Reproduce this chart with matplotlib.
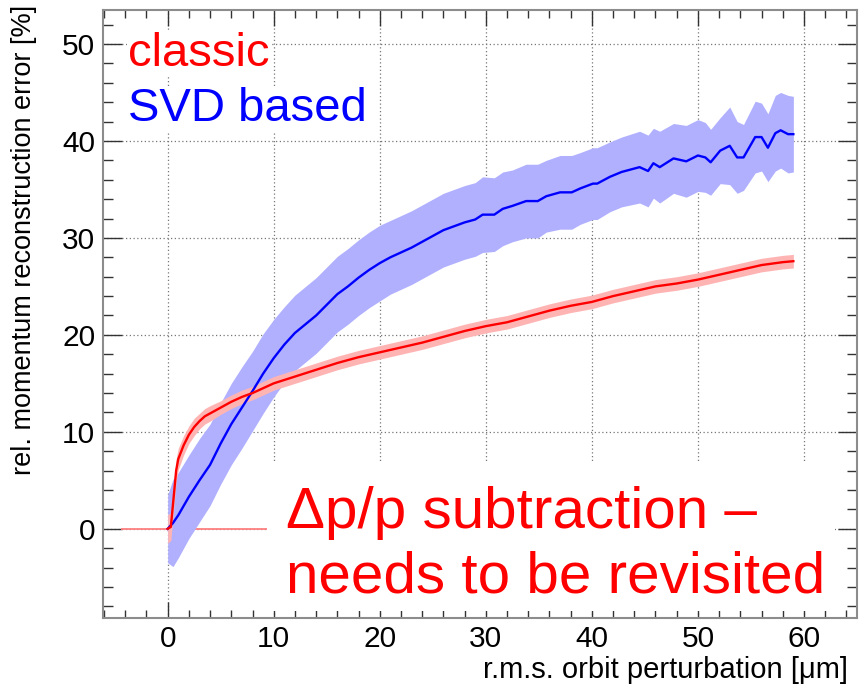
import numpy as np
import matplotlib.pyplot as plt
from matplotlib.ticker import MultipleLocator
from matplotlib.patches import Rectangle

plt.rcParams['font.family'] = ['Liberation Sans', 'DejaVu Sans']

# SVD based reconstruction: mean and spread vs. r.m.s. orbit perturbation
svd_x = [0, 0.5, 1, 2, 3, 4, 5, 6, 7, 8, 9, 10, 11, 12, 13, 14, 15, 16, 17, 18, 19, 20,
         21, 22, 23, 24, 25, 26, 27, 28, 29, 29.7, 30.8, 31.6, 32.5, 33.8, 34.9, 35.7,
         37.0, 38.1, 38.9, 40.1, 40.5, 41.7, 42.8, 44.5, 45.3, 45.8, 46.4, 47.7, 48.9,
         50.0, 50.7, 51.2, 52.1, 53.0, 53.7, 54.3, 55.4, 56.0, 56.6, 57.3, 57.8, 58.5, 59.0]
svd_y = [0, 0.6, 1.4, 3.3, 5.0, 6.6, 8.8, 10.8, 12.5, 14.2, 16.0, 17.6, 19.0, 20.2, 21.1,
         22.0, 23.1, 24.2, 25.0, 25.9, 26.7, 27.4, 28.0, 28.5, 29.0, 29.6, 30.2, 30.8,
         31.2, 31.6, 31.9, 32.4, 32.4, 33.0, 33.3, 33.8, 33.8, 34.3, 34.7, 34.7, 35.1,
         35.6, 35.6, 36.3, 36.8, 37.3, 36.9, 37.7, 37.3, 38.2, 37.9, 38.5, 38.3, 37.8,
         39.0, 39.5, 38.3, 38.3, 40.4, 40.4, 39.3, 40.8, 41.1, 40.7, 40.7]
svd_err = [3.5, 4.5, 4.4, 4.3, 4.3, 4.2, 4.2, 4.2, 4.2, 4.1, 4.1, 4.0,
           3.9, 3.9, 3.9, 3.9, 3.9, 3.9, 3.9, 3.9, 3.9, 3.9,
           3.8, 3.8, 3.8, 3.8, 3.8, 3.8, 3.8, 3.8, 3.8,
           3.9, 3.8, 3.8, 3.7, 3.8, 3.8, 3.7, 3.8, 3.8, 3.7,
           3.7, 3.7, 3.6, 3.6, 3.7, 3.7, 3.6, 3.7, 3.6, 3.7,
           3.7, 3.6, 3.4, 3.4, 4.0, 3.7, 3.4, 3.7, 3.5, 3.5,
           3.9, 3.9, 4.0, 3.9]

# classic reconstruction
cls_x = [0, 0.3, 0.5, 0.8, 1.0, 1.5, 2, 2.5, 3, 3.5, 4, 5, 6, 7, 8, 9, 10, 12, 14, 16, 18,
         20, 22, 24, 26, 28, 30, 32, 34, 36, 38, 40, 42, 44, 46, 48, 50, 52, 54, 56, 58, 59]
cls_y = [0, 0.2, 2.5, 6.0, 7.2, 8.6, 9.7, 10.5, 11.1, 11.6, 11.9, 12.5, 13.1, 13.6, 14.0,
         14.5, 15.0, 15.7, 16.4, 17.1, 17.7, 18.2, 18.7, 19.2, 19.8, 20.4, 20.9, 21.3,
         21.9, 22.5, 23.0, 23.4, 24.0, 24.5, 25.0, 25.3, 25.7, 26.2, 26.7, 27.2, 27.5, 27.6]
cls_err = [1.5, 1.4, 1.3, 1.2, 1.1, 1.0, 0.9, 0.9, 0.8, 0.8, 0.8] + [0.7] * 31

# reference line at zero
zero_x = [-4.4, 9.4]

svd_x, svd_y, svd_err = np.array(svd_x), np.array(svd_y), np.array(svd_err)
cls_x, cls_y, cls_err = np.array(cls_x), np.array(cls_y), np.array(cls_err)

fig = plt.figure(figsize=(8.66, 6.93), dpi=100)
ax = fig.add_axes([0.1189, 0.1082, 0.8707, 0.8773])

ax.fill_between(svd_x, svd_y - svd_err, svd_y + svd_err, color='#b0b0ff', lw=0, zorder=1.6)
ax.fill_between(cls_x, cls_y - cls_err, cls_y + cls_err, color='#ffb4b4', lw=0, zorder=1.7)
ax.plot(svd_x, svd_y, color='#0000ff', lw=1.7, zorder=2)
ax.plot(cls_x, cls_y, color='#ff0000', lw=1.7, zorder=2.1)
ax.hlines(0, zero_x[0], zero_x[1], color='#ff8080', lw=1.3, zorder=1.5)

ax.set_xlim(-6.1, 65.0)
ax.set_ylim(-9.2, 53.5)

# ROOT-like axes: inner ticks on all sides, dotted grid
ax.xaxis.set_major_locator(MultipleLocator(10))
ax.xaxis.set_minor_locator(MultipleLocator(2))
ax.yaxis.set_major_locator(MultipleLocator(10))
ax.yaxis.set_minor_locator(MultipleLocator(2))
ax.set_axisbelow(True)
ax.grid(True, which='major', color='#777777', linestyle=(0, (1, 2)), lw=0.9)
ax.tick_params(which='both', direction='in', top=True, right=True, colors='#333333',
               labelcolor='black', labelsize=21.5, width=1)
ax.tick_params(axis='x', which='major', length=11.5, pad=5)
ax.tick_params(axis='x', which='minor', length=6)
ax.tick_params(axis='y', which='major', length=14, pad=5.5)
ax.tick_params(axis='y', which='minor', length=7)
for s in ax.spines.values():
    s.set_color('#8c8c8c')
    s.set_linewidth(1.5)

ax.set_xlabel('r.m.s. orbit perturbation [\u03bcm]', fontsize=21, ha='right')
ax.xaxis.set_label_coords(0.988, -0.062)
ax.set_ylabel('rel. momentum reconstruction error [%]', fontsize=19.5, ha='right')
ax.yaxis.set_label_coords(-0.087, 1.008)

# legend-style labels with white background
box = dict(boxstyle='square,pad=0.02', facecolor='white', edgecolor='none')
ax.text(-3.7, 47.7, 'classic', color='#ff0000', fontsize=34, va='baseline', bbox=box, zorder=3)
ax.text(-3.7, 42.1, 'SVD based', color='#0000ff', fontsize=34, va='baseline', bbox=box, zorder=3)

# note box
ax.add_patch(Rectangle((9.4, -8.5), 62.9 - 9.4, 6.8 + 8.5, facecolor='white',
                       edgecolor='none', zorder=2.5))
ax.text(11.2, 0.1, '\u0394p/p subtraction \u2013', color='#ff0000', fontsize=42,
        va='baseline', zorder=3)
ax.text(11.2, -6.6, 'needs to be revisited', color='#ff0000', fontsize=42,
        va='baseline', zorder=3)

plt.savefig('out.png', dpi=100)
